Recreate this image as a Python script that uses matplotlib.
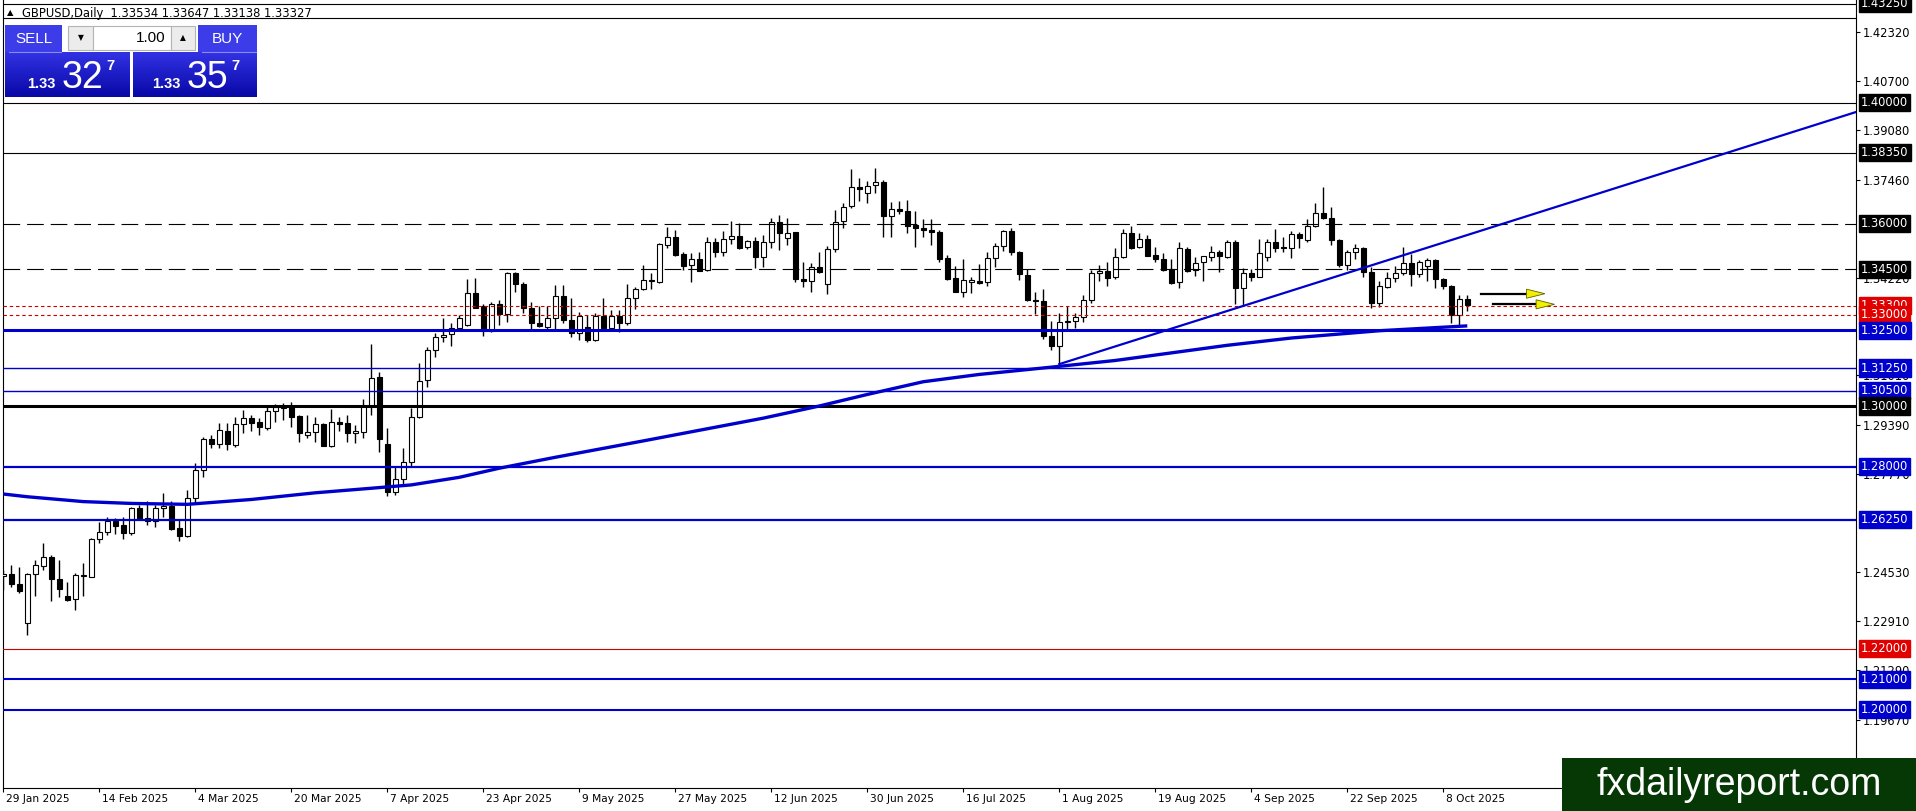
import numpy as np
import matplotlib
matplotlib.use("Agg")
import matplotlib.pyplot as plt
from matplotlib.patches import Rectangle, Polygon
from matplotlib.colors import LinearSegmentedColormap
from matplotlib.transforms import ScaledTranslation, blended_transform_factory

plt.rcParams['font.family'] = ['DejaVu Sans']
plt.rcParams['lines.scale_dashes'] = False

# GBPUSD daily candles, one per weekday from 29 Jan 2025 to 13 Oct 2025
opens = [
    1.2440, 1.2446, 1.2413, 1.2284, 1.2446, 1.2474, 1.2502, 1.2429, 1.2375, 1.2363,
    1.2439, 1.2438, 1.2561, 1.2584, 1.2621, 1.2608, 1.2580, 1.2663, 1.2621, 1.2621,
    1.2663, 1.2671, 1.2597, 1.2573, 1.2696, 1.2789, 1.2890, 1.2874, 1.2918, 1.2872,
    1.2941, 1.2960, 1.2947, 1.2929, 1.2985, 1.2995, 1.3000, 1.2967, 1.2904, 1.2913,
    1.2941, 1.2869, 1.2947, 1.2943, 1.2910, 1.2913, 1.3000, 1.3095, 1.2876, 1.2718,
    1.2758, 1.2816, 1.2965, 1.3086, 1.3185, 1.3226, 1.3236, 1.3258, 1.3266, 1.3372,
    1.3328, 1.3247, 1.3335, 1.3302, 1.3437, 1.3401, 1.3322, 1.3273, 1.3260, 1.3289,
    1.3362, 1.3285, 1.3239, 1.3261, 1.3217, 1.3297, 1.3256, 1.3297, 1.3272, 1.3355,
    1.3387, 1.3411, 1.3410, 1.3531, 1.3556, 1.3500, 1.3464, 1.3484, 1.3448, 1.3539,
    1.3509, 1.3549, 1.3561, 1.3523, 1.3544, 1.3492, 1.3539, 1.3605, 1.3552, 1.3572,
    1.3420, 1.3413, 1.3459, 1.3401, 1.3516, 1.3610, 1.3659, 1.3721, 1.3701, 1.3728,
    1.3737, 1.3627, 1.3648, 1.3642, 1.3596, 1.3588, 1.3580, 1.3572, 1.3487, 1.3421,
    1.3377, 1.3410, 1.3413, 1.3408, 1.3487, 1.3527, 1.3577, 1.3509, 1.3432, 1.3350,
    1.3347, 1.3232, 1.3199, 1.3277, 1.3280, 1.3292, 1.3348, 1.3438, 1.3445, 1.3424,
    1.3492, 1.3569, 1.3523, 1.3549, 1.3497, 1.3483, 1.3450, 1.3407, 1.3516, 1.3448,
    1.3473, 1.3490, 1.3506, 1.3490, 1.3541, 1.3388, 1.3437, 1.3426, 1.3492, 1.3539,
    1.3523, 1.3522, 1.3566, 1.3547, 1.3593, 1.3637, 1.3618, 1.3547, 1.3463, 1.3507,
    1.3520, 1.3441, 1.3338, 1.3391, 1.3421, 1.3437, 1.3470, 1.3434, 1.3462, 1.3481,
    1.3418, 1.3397, 1.3300, 1.33534,
]
highs = [
    1.2459, 1.2476, 1.2470, 1.2451, 1.2493, 1.2548, 1.2509, 1.2493, 1.2419, 1.2451,
    1.2482, 1.2564, 1.2619, 1.2633, 1.2630, 1.2633, 1.2668, 1.2674, 1.2687, 1.2674,
    1.2713, 1.2687, 1.2625, 1.2724, 1.2811, 1.2899, 1.2905, 1.2945, 1.2943, 1.2965,
    1.2987, 1.2971, 1.2960, 1.3000, 1.3007, 1.3009, 1.3013, 1.2970, 1.2971, 1.2963,
    1.2943, 1.2991, 1.2965, 1.2969, 1.2938, 1.3023, 1.3204, 1.3111, 1.2929, 1.2800,
    1.2860, 1.2992, 1.3141, 1.3196, 1.3240, 1.3289, 1.3273, 1.3300, 1.3418, 1.3421,
    1.3335, 1.3344, 1.3349, 1.3441, 1.3441, 1.3410, 1.3342, 1.3330, 1.3331, 1.3399,
    1.3398, 1.3355, 1.3311, 1.3300, 1.3305, 1.3355, 1.3316, 1.3316, 1.3402, 1.3393,
    1.3464, 1.3437, 1.3536, 1.3591, 1.3580, 1.3506, 1.3503, 1.3507, 1.3556, 1.3553,
    1.3575, 1.3611, 1.3602, 1.3547, 1.3558, 1.3564, 1.3618, 1.3629, 1.3618, 1.3574,
    1.3476, 1.3470, 1.3506, 1.3527, 1.3646, 1.3668, 1.3780, 1.3750, 1.3740, 1.3783,
    1.3745, 1.3671, 1.3677, 1.3679, 1.3642, 1.3615, 1.3615, 1.3580, 1.3498, 1.3462,
    1.3483, 1.3424, 1.3468, 1.3509, 1.3536, 1.3580, 1.3585, 1.3511, 1.3452, 1.3377,
    1.3385, 1.3280, 1.3306, 1.3329, 1.3307, 1.3366, 1.3448, 1.3465, 1.3476, 1.3520,
    1.3582, 1.3593, 1.3571, 1.3564, 1.3525, 1.3505, 1.3483, 1.3541, 1.3523, 1.3490,
    1.3494, 1.3527, 1.3514, 1.3547, 1.3547, 1.3454, 1.3451, 1.3549, 1.3549, 1.3583,
    1.3556, 1.3578, 1.3574, 1.3615, 1.3668, 1.3723, 1.3657, 1.3549, 1.3514, 1.3534,
    1.3523, 1.3457, 1.3413, 1.3440, 1.3462, 1.3523, 1.3500, 1.3481, 1.3489, 1.3484,
    1.3421, 1.3399, 1.3366, 1.33647,
]
lows = [
    1.2394, 1.2405, 1.2383, 1.2246, 1.2375, 1.2459, 1.2359, 1.2372, 1.2357, 1.2328,
    1.2374, 1.2436, 1.2548, 1.2576, 1.2578, 1.2561, 1.2576, 1.2625, 1.2608, 1.2602,
    1.2633, 1.2592, 1.2556, 1.2569, 1.2680, 1.2767, 1.2861, 1.2861, 1.2855, 1.2866,
    1.2910, 1.2916, 1.2905, 1.2921, 1.2948, 1.2954, 1.2932, 1.2883, 1.2893, 1.2883,
    1.2867, 1.2864, 1.2918, 1.2883, 1.2877, 1.2896, 1.2971, 1.2849, 1.2704, 1.2707,
    1.2740, 1.2800, 1.2959, 1.3061, 1.3161, 1.3210, 1.3199, 1.3253, 1.3262, 1.3322,
    1.3229, 1.3245, 1.3267, 1.3276, 1.3377, 1.3305, 1.3254, 1.3260, 1.3253, 1.3253,
    1.3272, 1.3228, 1.3217, 1.3212, 1.3215, 1.3253, 1.3253, 1.3245, 1.3267, 1.3320,
    1.3382, 1.3384, 1.3406, 1.3520, 1.3495, 1.3448, 1.3410, 1.3444, 1.3446, 1.3492,
    1.3495, 1.3534, 1.3517, 1.3517, 1.3454, 1.3459, 1.3519, 1.3514, 1.3531, 1.3409,
    1.3393, 1.3376, 1.3437, 1.3368, 1.3508, 1.3585, 1.3651, 1.3677, 1.3670, 1.3701,
    1.3558, 1.3558, 1.3632, 1.3570, 1.3523, 1.3558, 1.3531, 1.3476, 1.3415, 1.3374,
    1.3360, 1.3371, 1.3401, 1.3396, 1.3457, 1.3512, 1.3498, 1.3415, 1.3347, 1.3303,
    1.3220, 1.3183, 1.3138, 1.3250, 1.3256, 1.3278, 1.3341, 1.3413, 1.3394, 1.3417,
    1.3487, 1.3516, 1.3520, 1.3494, 1.3473, 1.3446, 1.3401, 1.3388, 1.3443, 1.3429,
    1.3413, 1.3479, 1.3443, 1.3487, 1.3336, 1.3330, 1.3413, 1.3424, 1.3479, 1.3509,
    1.3509, 1.3488, 1.3520, 1.3541, 1.3589, 1.3615, 1.3531, 1.3459, 1.3448, 1.3483,
    1.3425, 1.3322, 1.3325, 1.3388, 1.3410, 1.3432, 1.3397, 1.3424, 1.3413, 1.3388,
    1.3387, 1.3275, 1.3267, 1.33138,
]
closes = [
    1.2446, 1.2413, 1.2389, 1.2446, 1.2475, 1.2501, 1.2429, 1.2398, 1.2361, 1.2442,
    1.2442, 1.2561, 1.2584, 1.2621, 1.2606, 1.2580, 1.2663, 1.2628, 1.2630, 1.2663,
    1.2671, 1.2595, 1.2573, 1.2696, 1.2789, 1.2890, 1.2875, 1.2921, 1.2874, 1.2941,
    1.2960, 1.2945, 1.2932, 1.2985, 1.2996, 1.2998, 1.2965, 1.2912, 1.2913, 1.2940,
    1.2869, 1.2947, 1.2940, 1.2910, 1.2918, 1.3000, 1.3093, 1.2891, 1.2718, 1.2758,
    1.2816, 1.2965, 1.3084, 1.3185, 1.3226, 1.3235, 1.3258, 1.3289, 1.3372, 1.3324,
    1.3247, 1.3335, 1.3303, 1.3437, 1.3401, 1.3322, 1.3273, 1.3265, 1.3289, 1.3363,
    1.3285, 1.3241, 1.3297, 1.3217, 1.3297, 1.3256, 1.3297, 1.3274, 1.3355, 1.3387,
    1.3415, 1.3415, 1.3534, 1.3556, 1.3498, 1.3462, 1.3484, 1.3446, 1.3539, 1.3509,
    1.3549, 1.3561, 1.3520, 1.3544, 1.3492, 1.3539, 1.3605, 1.3569, 1.3569, 1.3420,
    1.3413, 1.3459, 1.3443, 1.3516, 1.3607, 1.3657, 1.3721, 1.3714, 1.3726, 1.3737,
    1.3627, 1.3648, 1.3642, 1.3594, 1.3585, 1.3579, 1.3574, 1.3484, 1.3418, 1.3377,
    1.3415, 1.3415, 1.3404, 1.3487, 1.3527, 1.3577, 1.3506, 1.3435, 1.3348, 1.3347,
    1.3229, 1.3199, 1.3276, 1.3280, 1.3292, 1.3350, 1.3438, 1.3446, 1.3423, 1.3492,
    1.3569, 1.3522, 1.3549, 1.3495, 1.3483, 1.3448, 1.3406, 1.3522, 1.3446, 1.3470,
    1.3494, 1.3506, 1.3495, 1.3541, 1.3388, 1.3437, 1.3426, 1.3503, 1.3539, 1.3519,
    1.3519, 1.3566, 1.3553, 1.3593, 1.3637, 1.3618, 1.3547, 1.3463, 1.3507, 1.3519,
    1.3443, 1.3338, 1.3397, 1.3421, 1.3437, 1.3470, 1.3434, 1.3473, 1.3481, 1.3418,
    1.3397, 1.3300, 1.3352, 1.33327,
]

# moving average read at a few bars
ma_bars = [0, 3, 10, 16, 23, 31, 39, 46, 51, 57, 62, 69, 80, 88, 95, 102,
           108, 115, 122, 131, 139, 153, 161, 172, 183]
ma_values = [1.2710, 1.2701, 1.2685, 1.2679, 1.2676, 1.2692, 1.2714, 1.2729,
             1.2740, 1.2765, 1.2795, 1.2831, 1.2885, 1.2925, 1.2960, 1.3000,
             1.3038, 1.3080, 1.3104, 1.3128, 1.3150, 1.3200, 1.3224, 1.3248, 1.3264]

# trend line (ray) from the 1 Aug low
trend_bars = [132, 176]
trend_prices = [1.3138, 1.3505]

# horizontal levels
levels = [1.4325, 1.4000, 1.3835, 1.3600, 1.3450, 1.3330, 1.3300, 1.3250,
          1.3125, 1.3050, 1.3000, 1.2800, 1.2625, 1.2200, 1.2100, 1.2000]
extra_line = 1.4278

# plain price scale labels
price_ticks = [1.42320, 1.40700, 1.39080, 1.37460, 1.34220, 1.31010,
               1.29390, 1.27770, 1.24530, 1.22910, 1.21290, 1.19670]

date_labels = ['29 Jan 2025', '14 Feb 2025', '4 Mar 2025', '20 Mar 2025',
               '7 Apr 2025', '23 Apr 2025', '9 May 2025', '27 May 2025',
               '12 Jun 2025', '30 Jun 2025', '16 Jul 2025', '1 Aug 2025',
               '19 Aug 2025', '4 Sep 2025', '22 Sep 2025', '8 Oct 2025']
date_step = 12

# yellow arrows on the right
arrow_tail = [184.7, 186.2]
arrow_tip = [192.7, 193.9]
arrow_price = [1.3370, 1.3335]

BLUE = '#0000cd'
RED = '#d00000'
style = {
    1.4325: ('black', 0.8, '-'), 1.4000: ('black', 0.8, '-'),
    1.3835: ('black', 0.8, '-'),
    1.3600: ('black', 0.8, (0, (12, 5))), 1.3450: ('black', 0.8, (0, (12, 5))),
    1.3330: (RED, 0.8, (0, (2.5, 2))), 1.3300: (RED, 0.8, (0, (2.5, 2))),
    1.3250: (BLUE, 2.2, '-'), 1.3125: (BLUE, 1.0, '-'), 1.3050: (BLUE, 1.0, '-'),
    1.3000: ('black', 2.2, '-'), 1.2800: (BLUE, 1.6, '-'), 1.2625: (BLUE, 1.6, '-'),
    1.2200: (RED, 0.8, '-'), 1.2100: (BLUE, 1.5, '-'), 1.2000: (BLUE, 1.5, '-'),
}
label_bg = {1.3330: '#e00000', 1.3300: '#e00000', 1.2200: '#e00000'}

W, H = 1916, 811
fig = plt.figure(figsize=(W / 100, H / 100), dpi=100)
fig.patch.set_facecolor('white')

left_px, right_px, top_px, bottom_px = 2.5, 1856, 0, 788
ax = fig.add_axes([left_px / W, (H - bottom_px) / H,
                   (right_px - left_px) / W, (bottom_px - top_px) / H])

o = np.array(opens); h = np.array(highs); l = np.array(lows); c = np.array(closes)
x = np.arange(len(o))
up = c >= o

# candles
ax.vlines(x, l, h, color='black', lw=1.0, zorder=2)
ax.bar(x[up], (c - o)[up], bottom=o[up], width=0.6, color='white',
       edgecolor='black', lw=0.8, zorder=3)
ax.bar(x[~up], (c - o)[~up], bottom=o[~up], width=0.6, color='black',
       edgecolor='black', lw=0.8, zorder=3)

xmin, xmax = -0.1, -0.1 + (right_px - left_px) / 8
ax.set_xlim(xmin, xmax)
ax.set_ylim(1.30 - (bottom_px - 406) / 3035, 1.30 + 406 / 3035)

# horizontal levels
for lv in levels:
    col, lw, ls = style[lv]
    ax.axhline(lv, color=col, lw=lw, linestyle=ls, zorder=4)
ax.axhline(extra_line, color='black', lw=0.8, zorder=4)

# moving average and trend line
ax.plot(ma_bars, ma_values, color=BLUE, lw=2.4, zorder=5, solid_capstyle='butt',
        solid_joinstyle='round')
slope = (trend_prices[1] - trend_prices[0]) / (trend_bars[1] - trend_bars[0])
ax.plot([trend_bars[0], xmax], [trend_prices[0], trend_prices[0] + slope * (xmax - trend_bars[0])],
        color=BLUE, lw=1.6, zorder=5)

# arrows
for xt, xh, pr in zip(arrow_tail, arrow_tip, arrow_price):
    ax.plot([xt, xh - 2.0], [pr, pr], color='black', lw=1.6, zorder=6)
    ax.add_patch(Polygon([[xh - 2.3, pr + 0.0015], [xh, pr], [xh - 2.3, pr - 0.0015]],
                         closed=True, fc='#f0f000', ec='#606000', lw=0.6, zorder=7))

# axes frame
for s in ['left', 'bottom', 'right']:
    ax.spines[s].set_color('black')
    ax.spines[s].set_linewidth(0.8)
ax.spines['top'].set_visible(False)

# price scale
ax.yaxis.tick_right()
ax.set_yticks(price_ticks)
ax.set_yticklabels([f'{v:.5f}' for v in price_ticks])
ax.tick_params(axis='y', length=3, width=0.8, pad=2, labelsize=8.3, colors='black')

ytr = blended_transform_factory(ax.transAxes, ax.transData) + \
    ScaledTranslation(5 / 100, 0, fig.dpi_scale_trans)
for lv in levels:
    col = label_bg.get(lv, style[lv][0])
    ax.text(1.0, lv, f'{lv:.5f}', transform=ytr, color='white', fontsize=8.3,
            va='center', ha='left', zorder=20, clip_on=False,
            bbox=dict(boxstyle='square,pad=0.18', fc=col, ec=col))

# time scale
ax.set_xticks([date_step * i for i in range(len(date_labels))])
ax.set_xticklabels(date_labels, ha='left')
ax.tick_params(axis='x', length=3, width=0.8, pad=1.5, labelsize=7.7)
for lbl in ax.get_xticklabels():
    lbl.set_transform(lbl.get_transform() + ScaledTranslation(3 / 100, 0, fig.dpi_scale_trans))

# overlay in pixel units for the header, trade panel and watermark
ov = fig.add_axes([0, 0, 1, 1], zorder=30)
ov.set_autoscale_on(False)
ov.set_xlim(0, W)
ov.set_ylim(H, 0)
ov.axis('off')
ov.patch.set_alpha(0)

ov.text(7, 13, '\u25b2', fontsize=6, va='center', ha='left')
ov.text(22, 13, 'GBPUSD,Daily  1.33534 1.33647 1.33138 1.33327', fontsize=8.3,
        va='center', ha='left')

sans = ['Liberation Sans', 'DejaVu Sans']
grad = LinearSegmentedColormap.from_list('pbox', ['#3232e4', '#0808a6'])
g = np.linspace(0, 1, 64).reshape(-1, 1)
for x0, x1 in [(5, 130), (133, 257)]:
    ov.imshow(g, cmap=grad, extent=(x0, x1, 97, 52), aspect='auto',
              origin='upper', zorder=1)
for x0, x1, txt in [(5, 62, 'SELL'), (198, 257, 'BUY')]:
    ov.add_patch(Rectangle((x0, 25), x1 - x0, 27, fc='#3c3ce8', ec='none', zorder=1))
    ov.plot([x0 + 4, x1 - 1], [51.5, 51.5], color='#8a8af2', lw=0.8, zorder=2)
    ov.text((x0 + x1) / 2, 39, txt, color='white', fontsize=11, family=sans,
            ha='center', va='center', zorder=3)
ov.add_patch(Rectangle((68, 26), 25, 24, fc='#ececec', ec='#b4b4b4', lw=0.8, zorder=1))
ov.add_patch(Rectangle((93, 26), 78, 24, fc='white', ec='#b4b4b4', lw=0.8, zorder=1))
ov.add_patch(Rectangle((171, 26), 24, 24, fc='#ececec', ec='#b4b4b4', lw=0.8, zorder=1))
ov.text(80.5, 38, '\u25bc', fontsize=5.5, ha='center', va='center', zorder=3)
ov.text(183, 38, '\u25b2', fontsize=5.5, ha='center', va='center', zorder=3)
ov.text(166, 38, '1.00', fontsize=11, family=sans, ha='right', va='center', zorder=3)

for xs, big in [(27, '32'), (152, '35')]:
    ov.text(xs, 88, '1.33', color='white', fontsize=10.5, fontweight='bold',
            family=sans, ha='left', va='baseline', zorder=3)
    ov.text(xs + 35, 88.5, big, color='white', fontsize=27, family=sans,
            ha='left', va='baseline', zorder=3)
    ov.text(xs + 79, 70, '7', color='white', fontsize=10.5, fontweight='bold',
            family=sans, ha='left', va='baseline', zorder=3)

# watermark
ov.add_patch(Rectangle((1562, 758), W - 1562, H - 758, fc='#063806', ec='none', zorder=1))
ov.text(1739, 785, 'fxdailyreport.com', color='white', fontsize=27, family=sans,
        ha='center', va='center', zorder=3)

fig.savefig('out.png', dpi=100, facecolor='white')
